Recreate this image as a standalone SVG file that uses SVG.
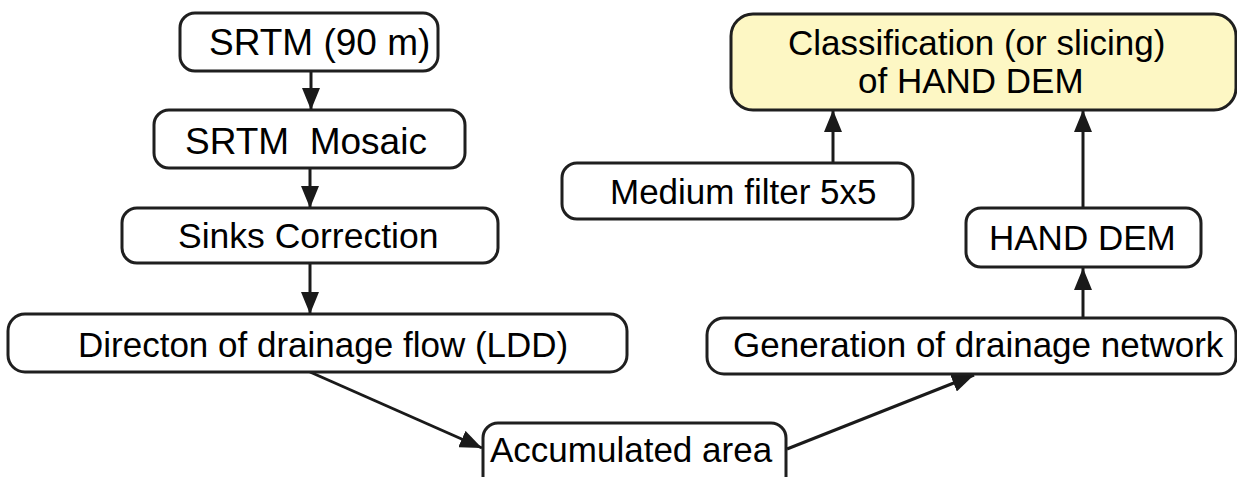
<svg xmlns="http://www.w3.org/2000/svg" width="1237" height="477" viewBox="0 0 1237 477">
<defs>
<marker id="ah" markerWidth="22" markerHeight="18" refX="22" refY="9" orient="auto" markerUnits="userSpaceOnUse">
<path d="M0,0 L22,9 L0,18 Z" fill="#1a1a1a"/>
</marker>
<style>
.box{fill:#fff;stroke:#1f1f1f;stroke-width:3}
.hl{fill:#fdf7c4;stroke:#1f1f1f;stroke-width:3}
.t{font-family:"Liberation Sans",Arial,sans-serif;font-size:35px;fill:#000}
.big{font-size:37px}
.c{fill:none;stroke:#1a1a1a;stroke-width:3;marker-end:url(#ah)}
</style>
</defs>
<rect width="1237" height="477" fill="#fff"/>
<g id="connectors">
<line class="c" x1="311" y1="71" x2="311" y2="110"/>
<line class="c" x1="310" y1="168" x2="310" y2="208"/>
<line class="c" x1="310" y1="263" x2="310" y2="314"/>
<line class="c" x1="310" y1="372" x2="482" y2="448"/>
<line class="c" x1="787" y1="449" x2="974" y2="375"/>
<line class="c" x1="1083" y1="318" x2="1083" y2="268"/>
<line class="c" x1="1083" y1="208" x2="1083" y2="110"/>
<line class="c" x1="833" y1="163" x2="833" y2="110"/>
</g>
<g id="n1"><rect class="box" x="180" y="13" width="258" height="58" rx="15"/><text class="t big" x="209" y="55">SRTM (90 m)</text></g>
<g id="n2"><rect class="box" x="154" y="110" width="311" height="58" rx="15"/><text class="t big" x="185" y="154" xml:space="preserve">SRTM  Mosaic</text></g>
<g id="n3"><rect class="box" x="122" y="208" width="376" height="55" rx="15"/><text class="t" x="178" y="248" style="font-size:35.5px">Sinks Correction</text></g>
<g id="n4"><rect class="box" x="8" y="314" width="619" height="58" rx="17"/><text class="t" x="78" y="357">Directon of drainage flow (LDD)</text></g>
<g id="n5"><rect class="box" x="483" y="423" width="303" height="70" rx="15"/><text class="t" x="490" y="462">Accumulated area</text></g>
<g id="n6"><rect class="box" x="707" y="318" width="529" height="56" rx="17"/><text class="t" x="733" y="357">Generation of drainage network</text></g>
<g id="n7"><rect class="box" x="966" y="208" width="235" height="59" rx="15"/><text class="t" x="989" y="250">HAND DEM</text></g>
<g id="n8"><rect class="box" x="562" y="163" width="351" height="56" rx="15"/><text class="t" x="610" y="204">Medium filter 5x5</text></g>
<g id="n9"><rect class="hl" x="731" y="14" width="505" height="96" rx="22"/><text class="t" x="788" y="55">Classification (or slicing)</text><text class="t" x="858" y="93">of HAND DEM</text></g>
</svg>
